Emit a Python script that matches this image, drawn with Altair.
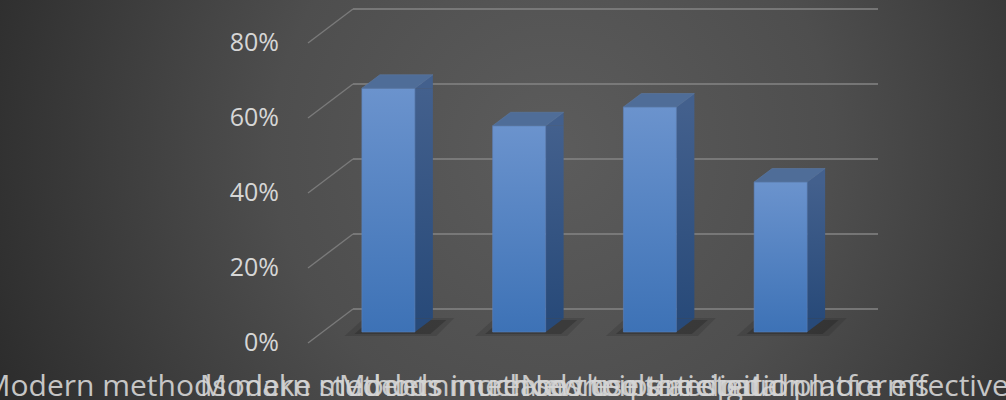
import altair as alt
import pandas as pd

# ---- data ----
categories = ["A", "B", "C", "D"]
labels = [
    "Modern methods make students much more interested",
    "Modern methods increase the participation",
    "Modern methods use the digital platforms",
    "New tools are much more effective",
]
values = [0.65, 0.55, 0.60, 0.40]
ticks = [0.0, 0.2, 0.4, 0.6, 0.8]
tick_labels = ["0%", "20%", "40%", "60%", "80%"]

df = pd.DataFrame({"cat": categories, "value": values, "label": labels})
tdf = pd.DataFrame({"tick": ticks, "tl": tick_labels})

W, H = 1006, 400
xs = alt.Scale(domain=categories, range=[323, 846], paddingInner=0, paddingOuter=0)
ys = alt.Scale(domain=[0, 0.8], range=[332, 32])

X = alt.X("cat:N", scale=xs, axis=None)
Y = alt.Y("value:Q", scale=ys, axis=None)

# background (radial gradient)
bg = alt.Chart(alt.Data(values=[{"a": 1}])).mark_rect(
    fill=alt.RadialGradient(
        gradient="radial",
        x1=0.55, y1=0.45, r1=0.0,
        x2=0.55, y2=0.45, r2=0.62,
        stops=[
            alt.GradientStop(color="#5c5c5c", offset=0),
            alt.GradientStop(color="#4e4e4e", offset=0.45),
            alt.GradientStop(color="#2a2a2a", offset=1),
        ],
    )
).encode(x=alt.value(0), x2=alt.value(W), y=alt.value(0), y2=alt.value(H))

TY = alt.Y("tick:Q", scale=ys, axis=None)
grid_back = alt.Chart(tdf).mark_rule(color="#858585", strokeWidth=1.6, yOffset=-23).encode(
    x=alt.value(353), x2=alt.value(878), y=TY
)
grid_diag = alt.Chart(tdf).mark_rule(color="#7a7a7a", strokeWidth=1.4, yOffset=11, y2Offset=-23).encode(
    x=alt.value(308), x2=alt.value(353), y=TY, y2="tick:Q"
)
tick_text = alt.Chart(tdf).mark_text(
    align="right", baseline="middle", fontSize=25, font="Open Sans", color="#d6d6d6", yOffset=11
).encode(x=alt.value(279), y=TY, text="tl:N")

shadow_soft = alt.Chart(df).mark_point(
    shape="M-44,4 L-24,-14 L66,-14 L48,4 Z", size=4, filled=True, fill="#1e1e1e", opacity=0.18, strokeWidth=0
).encode(x=X, y=alt.Y(datum=0, scale=ys, axis=None))
shadow = alt.Chart(df).mark_point(
    shape="M-34,2 L-18,-12 L58,-12 L42,2 Z", size=4, filled=True, fill="#1a1a1a", opacity=0.3, strokeWidth=0
).encode(x=X, y=alt.Y(datum=0, scale=ys, axis=None))

side_grad = alt.Gradient(
    gradient="linear", x1=0, y1=0, x2=0, y2=1,
    stops=[alt.GradientStop(color="#43608d", offset=0), alt.GradientStop(color="#284a79", offset=1)],
)
side = alt.Chart(df).mark_bar(size=18, xOffset=35.5, y2Offset=-13.5, fill=side_grad).encode(
    x=X, y=Y, y2=alt.Y2(datum=0)
)
side_top = alt.Chart(df).mark_point(
    shape="M26.5,0 L44.5,-13.5 L44.5,0 Z", size=4, filled=True, fill="#43608d", opacity=1, strokeWidth=0
).encode(x=X, y=Y)
side_bot = alt.Chart(df).mark_point(
    shape="M26.5,-13.5 L26.5,0 L44.5,-13.5 Z", size=4, filled=True, fill="#284a79", opacity=1, strokeWidth=0
).encode(x=X, y=alt.Y(datum=0, scale=ys, axis=None))

top_face = alt.Chart(df).mark_point(
    shape="M-26.5,0 L-8.5,-13.5 L44.5,-13.5 L26.5,0 Z", size=4, filled=True, fill="#4f6d98",
    opacity=1, stroke="#5a78a5", strokeWidth=0.6
).encode(x=X, y=Y)

front_grad = alt.Gradient(
    gradient="linear", x1=0, y1=0, x2=0, y2=1,
    stops=[alt.GradientStop(color="#6b93cd", offset=0), alt.GradientStop(color="#3d72b6", offset=1)],
)
front = alt.Chart(df).mark_bar(size=53, fill=front_grad, stroke="#5c82bb", strokeWidth=0.6).encode(
    x=X, y=Y, y2=alt.Y2(datum=0)
)

xlab = alt.Chart(df).mark_text(
    baseline="alphabetic", align="center", fontSize=30, font="Open Sans", color="#d6d6d6",
    xOffset=-16, opacity=0.9
).encode(x=X, y=alt.value(396), text="label:N")

chart = alt.layer(
    bg, grid_back, grid_diag, tick_text, shadow_soft, shadow, side, side_top, side_bot, front, top_face, xlab
).properties(
    width=W, height=H, padding=0, autosize=alt.AutoSizeParams(type="none")
).configure_view(stroke=None).configure(background="#2a2a2a")

chart.save("out.html", embed_options={"renderer": "svg", "actions": False})
